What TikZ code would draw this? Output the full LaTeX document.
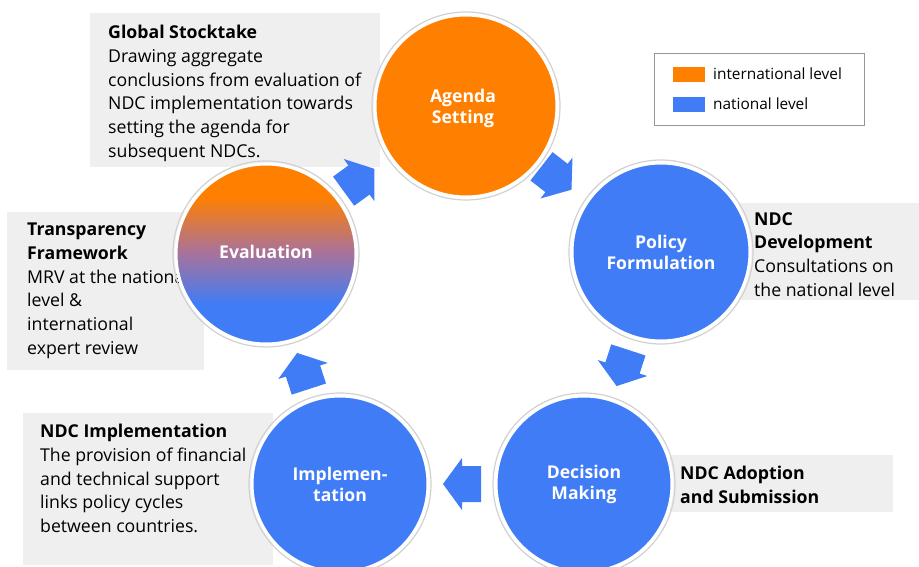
\documentclass[tikz,border=0pt]{standalone}
\usepackage{fontspec}
\setmainfont{Open Sans}
\usetikzlibrary{calc}
\definecolor{orng}{RGB}{255,128,0}
\definecolor{blu}{RGB}{64,124,246}
\definecolor{mauve}{RGB}{172,114,150}
\definecolor{boxgray}{RGB}{239,239,239}
\definecolor{legendgray}{RGB}{150,150,150}
\pgfdeclareverticalshading{evalshade}{100bp}{color(0bp)=(blu); color(36bp)=(blu); color(51bp)=(mauve); color(66bp)=(orng); color(100bp)=(orng)}
\newcommand\cyclearrow[2]{%
  \begin{scope}[shift={#1}, rotate=#2]
    \fill[blu] (-19,-18) -- (0,-18) -- (0,-26) -- (19,0) -- (0,26) -- (0,18) -- (-19,18) -- cycle;
  \end{scope}}
\tikzset{
  textbox/.style={fill=boxgray, draw=none, anchor=north west, inner sep=0pt},
  boxtext/.style={anchor=north west, inner sep=0pt, align=left, text=black,
    font=\fontsize{17.7}{23.7}\selectfont},
  stage/.style={circle, draw=white, line width=3pt, inner sep=0pt, text=white, align=center,
    font=\fontsize{17.6}{21}\selectfont\bfseries},
  ring/.style={draw=black!18, line width=1.2pt},
  legendtext/.style={anchor=west, inner sep=0pt, font=\fontsize{15.4}{17}\selectfont},
  swatch/.style={anchor=north west, inner sep=0pt, minimum width=32pt, minimum height=15pt}
}
\begin{document}
\begin{tikzpicture}[x=1pt, y=-1pt]
\useasboundingbox (0,0) rectangle (919,567);
\clip (0,0) rectangle (919,567);
\fill[white] (0,0) rectangle (919,567);

% text boxes
\node[textbox, minimum width=290pt, minimum height=154pt] (gsbox) at (90,13) {};
\node[textbox, minimum width=197pt, minimum height=158pt] (tfbox) at (7,212) {};
\node[textbox, minimum width=184pt, minimum height=97pt] (ndbox) at (735,203) {};
\node[textbox, minimum width=223pt, minimum height=57pt] (nabox) at (670,455) {};
\node[textbox, minimum width=250pt, minimum height=152pt] (nibox) at (23,413) {};

% texts
\node[boxtext] (gstext) at (108,25) {\textbf{Global Stocktake}\\Drawing aggregate\\conclusions from evaluation of\\NDC implementation towards\\setting the agenda for\\subsequent NDCs.};
\node[boxtext] (tftext) at (27,223) {\textbf{Transparency}\\\textbf{Framework}\\MRV at the national\\level \&\\international\\expert review};
\node[boxtext] (ndtext) at (754,212) {\textbf{NDC}\\\textbf{Development}\\Consultations on\\the national level};
\node[boxtext] (natext) at (680,466) {\textbf{NDC Adoption}\\\textbf{and Submission}};
\node[boxtext] (nitext) at (40,424) {\textbf{NDC Implementation}\\The provision of financial\\and technical support\\links policy cycles\\between countries.};

% stage circles
\draw[ring] (466,106) circle (94pt);
\draw[ring] (661,252) circle (92pt);
\draw[ring] (584,484) circle (91pt);
\draw[ring] (340,484) circle (91pt);
\draw[ring] (266,254) circle (93pt);
\node[stage, fill=orng, minimum size=182pt] (agenda) at (466,106) {};
\node[stage, fill=blu, minimum size=178pt] (policy) at (661,252) {};
\node[stage, fill=blu, minimum size=176pt] (decision) at (584,484) {};
\node[stage, fill=blu, minimum size=176pt] (impl) at (340,484) {};
\node[stage, shade, shading=evalshade, minimum size=180pt] (eval) at (266,254) {};
\node[stage, draw=none] (agendalbl) at ($(agenda.center)+(-3,2)$) {Agenda\\Setting};
\node[stage, draw=none] (policylbl) at (policy.center) {Policy\\Formulation};
\node[stage, draw=none] (decisionlbl) at ($(decision.center)+(0,0)$) {Decision\\Making};
\node[stage, draw=none] (impllbl) at ($(impl.center)+(0,0)$) {Implemen-\\tation};
\node[stage, draw=none] (evallbl) at ($(eval.center)+(0,-2)$) {Evaluation};

% cycle arrows
\cyclearrow{($(eval)!0.5!(agenda)+(-7,0)$)}{36}
\cyclearrow{($(agenda)!0.5!(policy)+(-7,-1)$)}{-38}
\cyclearrow{($(policy)!0.5!(decision)$)}{-108}
\cyclearrow{($(decision)!0.5!(impl)$)}{180}
\cyclearrow{($(impl)!0.5!(eval)+(0,2)$)}{108}

% legend
\node[draw=legendgray, line width=1pt, anchor=north west, inner sep=0pt, minimum width=210pt, minimum height=72pt] (legend) at (654,53) {};
\node[swatch, fill=orng] (swo) at (673,67) {};
\node[swatch, fill=blu] (swb) at (673,97) {};
\node[legendtext] (lto) at (713,74) {international level};
\node[legendtext] (ltb) at (713,104) {national level};
\end{tikzpicture}
\end{document}
